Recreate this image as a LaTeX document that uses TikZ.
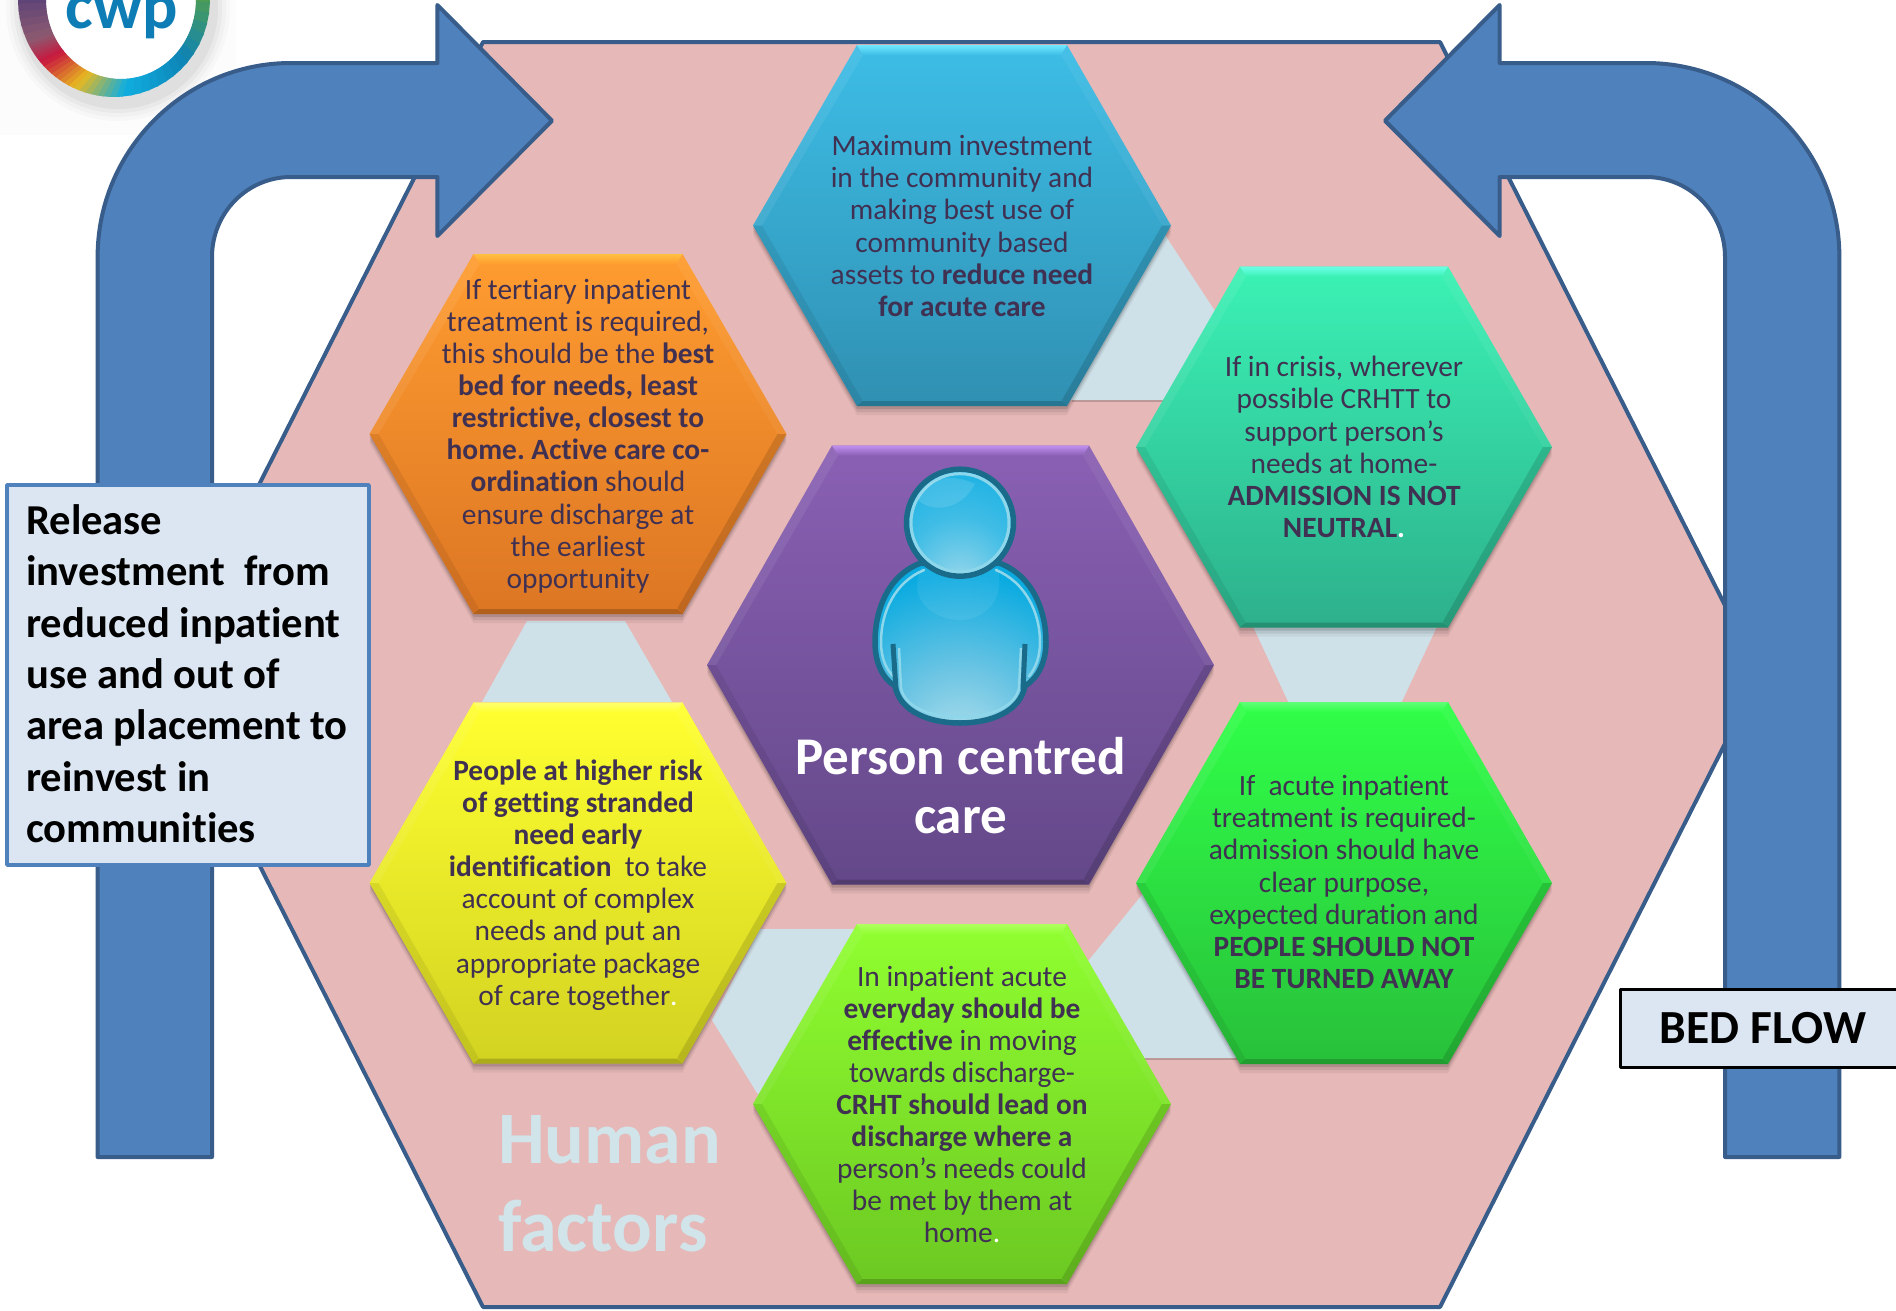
\documentclass[tikz,border=0pt]{standalone}
\usepackage{fontspec}
\setmainfont{Carlito}[Ligatures=NoCommon]
\usetikzlibrary{calc}
\definecolor{pinkbg}{HTML}{E6B8B7}
\definecolor{lightpoly}{HTML}{CFE1E8}
\definecolor{arrowfill}{HTML}{4F81BD}
\definecolor{arrowline}{HTML}{385D8A}
\definecolor{boxfill}{HTML}{DCE6F2}
\definecolor{hextext}{HTML}{403152}
\definecolor{humantext}{HTML}{D0E4EA}
\definecolor{logoblue}{HTML}{0E7DB5}
\definecolor{pline}{HTML}{1A6A8A}
\definecolor{pring}{HTML}{8ED6EA}
\definecolor{lgA}{HTML}{5DA33D}\definecolor{lgB}{HTML}{0E83B5}\definecolor{lgC}{HTML}{10AEE0}
\definecolor{lgD}{HTML}{E8B820}\definecolor{lgE}{HTML}{C8183F}\definecolor{lgF}{HTML}{8C5A70}\definecolor{lgG}{HTML}{4A3A7A}
\definecolor{blueT}{HTML}{3DBDE6}\definecolor{blueB}{HTML}{3090B2}\definecolor{blueH}{HTML}{6FE8FF}
\definecolor{tealT}{HTML}{3BF2B4}\definecolor{tealB}{HTML}{2DB08C}\definecolor{tealH}{HTML}{6CFFE8}
\definecolor{greenT}{HTML}{30FF48}\definecolor{greenB}{HTML}{28C03A}\definecolor{greenH}{HTML}{60FF78}
\definecolor{limeT}{HTML}{90FF30}\definecolor{limeB}{HTML}{6CC822}\definecolor{limeH}{HTML}{B0FF60}
\definecolor{yellowT}{HTML}{FFFF30}\definecolor{yellowB}{HTML}{D2D222}\definecolor{yellowH}{HTML}{FFFF70}
\definecolor{orangeT}{HTML}{FF9C30}\definecolor{orangeB}{HTML}{DC7624}\definecolor{orangeH}{HTML}{FFC040}
\definecolor{purpleT}{HTML}{8A60B4}\definecolor{purpleB}{HTML}{634888}\definecolor{purpleH}{HTML}{C090F0}
\pgfdeclareradialshading{personshade}{\pgfpoint{0bp}{-35bp}}{%
  rgb(0bp)=(.73,.89,.93);rgb(20bp)=(.42,.77,.89);rgb(42bp)=(.04,.67,.88);rgb(60bp)=(.04,.65,.87);rgb(100bp)=(.04,.65,.87)}
\pgfdeclareradialshading{headshade}{\pgfpoint{0bp}{-30bp}}{%
  rgb(0bp)=(.62,.85,.92);rgb(25bp)=(.25,.74,.90);rgb(50bp)=(.05,.68,.89);rgb(100bp)=(.05,.68,.89)}
\tikzset{
  hextxt/.style={text=hextext,align=center,inner sep=0pt,font=\fontsize{29.4}{32.1}\selectfont\frenchspacing},
  bigarrow/.style={fill=arrowfill,draw=arrowline,line width=4pt,line join=round},
  lightp/.style={fill=lightpoly},
  infobox/.style={fill=boxfill,line width=3.5pt,line join=round},
}
% cx, cy, half width, half height, inset, top colour, bottom colour, highlight
\newcommand{\hexa}[8]{%
  \begin{scope}[shift={(#1,#2)}]
    \pgfmathsetmacro\W{#3}\pgfmathsetmacro\H{#4}\pgfmathsetmacro\T{\W-#5}
    \foreach \o/\c in {9/.05,6/.08,3/.12}{
      \fill[black,opacity=\c] (-\W,\o) -- (-\T,-\H+\o) -- (\T,-\H+\o) -- (\W,\o) -- (\T,\H+\o) -- (-\T,\H+\o) -- cycle;
    }
    \shade[top color=#6,bottom color=#7] (-\W,0) -- (-\T,-\H) -- (\T,-\H) -- (\W,0) -- (\T,\H) -- (-\T,\H) -- cycle;
    \shade[top color=#8,bottom color=#6] (-\T,-\H) -- (\T,-\H) -- (\T-6,-\H+10) -- (-\T+6,-\H+10) -- cycle;
    \fill[white,opacity=.07] (-\W,0) -- (-\T,-\H) -- (-\T+6,-\H+10) -- (-\W+9,0) -- cycle;
    \fill[white,opacity=.05] (\W,0) -- (\T,-\H) -- (\T-6,-\H+10) -- (\W-9,0) -- cycle;
    \fill[black,opacity=.07] (-\W,0) -- (-\T,\H) -- (-\T+5,\H-6) -- (-\W+9,0) -- cycle;
    \fill[black,opacity=.13] (\W,0) -- (\T,\H) -- (\T-5,\H-6) -- (\W-9,0) -- cycle;
    \fill[black,opacity=.18] (-\T,\H) -- (\T,\H) -- (\T-5,\H-5) -- (-\T+5,\H-5) -- cycle;
  \end{scope}}
\newcommand{\arrowpath}{(97.6,1157) -- (97.6,257) .. controls (97.6,150.4) and (184.4,63) .. (291,63) -- (437.4,63) -- (437.4,5) -- (552,120.7) -- (437.4,236) -- (437.4,177) -- (291,177) .. controls (247,177) and (212,213) .. (212,257) -- (212,1157) -- cycle}
\begin{document}
\begin{tikzpicture}[x=1pt,y=-1pt]
\clip (0,0) rectangle (1896,1310);
\fill[white] (0,0) rectangle (1896,1310);
% logo
\fill[black!1] (0,0) rectangle (236,135);
\foreach \r/\c in {16/.02,12/.025,8/.03,4/.04}{
  \fill[black,opacity=\c] (118,8) ellipse ({96+\r} and {97+\r});
}
\fill[white] (121,0) ellipse (75 and 79);
\foreach \a/\b/\ca/\cb in {-12/40/lgA/lgB,40/85/lgB/lgC,85/115/lgC/lgD,115/140/lgD/lgE,140/155/lgE/lgF,155/192/lgF/lgG}{
  \foreach \t in {0,...,7}{
    \pgfmathsetmacro\sa{\a+(\b-\a)*\t/8}
    \pgfmathsetmacro\sb{\a+(\b-\a)*(\t+1.15)/8}
    \pgfmathsetmacro\pc{100-(\t+.5)*12.5}
    \fill[\ca!\pc!\cb] ({114+96*cos(\sa)},{97*sin(\sa)}) -- ({114+96*cos(\sb)},{97*sin(\sb)}) -- ({121+75*cos(\sb)},{79*sin(\sb)}) -- ({121+75*cos(\sa)},{79*sin(\sa)}) -- cycle;
  }
}
\node[anchor=base,text=logoblue,inner sep=0pt,font=\fontsize{66}{66}\selectfont\bfseries] (logotext) at (122,28) {cwp};
% large background hexagon
\draw[fill=pinkbg,draw=arrowline,line width=4pt,line join=round] (483,42) -- (1440,42) -- (1760,674.5) -- (1440,1307) -- (483,1307) -- (163,674.5) -- cycle;
% pale panels between the hexagons
\fill[lightp] (1150,230) -- (1165,235) -- (1240,349) -- (1240,400) -- (1060,400) -- cycle;
\fill[lightp] (1250,620) -- (1440,620) -- (1398,710) -- (1292,710) -- cycle;
\fill[lightp] (1150,885) -- (1250,1058) -- (1130,1058) -- (1080,971) -- cycle;
\fill[lightp] (760,929) -- (870,929) -- (770,1100) -- (757,1093) -- (712,1020) -- cycle;
\fill[lightp] (527,621) -- (625,621) -- (672,702) -- (482,702) -- cycle;
\fill[black,opacity=.18] (1072,400) rectangle (1180,402);
\fill[black,opacity=.18] (1142,1058) rectangle (1250,1060);
% arrows
\draw[bigarrow] \arrowpath;
\begin{scope}[shift={(1937,0)},xscale=-1]
  \draw[bigarrow] \arrowpath;
\end{scope}
% hexagons
\hexa{962}{225.5}{209}{180.5}{104}{blueT}{blueB}{blueH}
\hexa{1344}{447}{208}{180.5}{104}{tealT}{tealB}{tealH}
\hexa{1344}{883}{208}{181}{104}{greenT}{greenB}{greenH}
\hexa{962}{1104}{209}{180}{104}{limeT}{limeB}{limeH}
\hexa{578}{883}{208.5}{180.5}{104}{yellowT}{yellowB}{yellowH}
\hexa{578}{434}{208.5}{180}{104}{orangeT}{orangeB}{orangeH}
\hexa{960.5}{665}{253.5}{219.5}{125}{purpleT}{purpleB}{purpleH}
% person
\shade[shading=personshade,draw=pline,line width=5.5pt,line join=round]
  (921,563) .. controls (888,575) and (875,610) .. (875,642) .. controls (875,662) and (882,678) .. (895,686)
  .. controls (900,712) and (930,723) .. (960,723) .. controls (990,723) and (1020,712) .. (1025,686)
  .. controls (1038,678) and (1046,662) .. (1046,642) .. controls (1046,610) and (1032,575) .. (999,563) -- cycle;
\draw[pring,line width=2.5pt,line cap=round] (924,570) .. controls (895,582) and (881,612) .. (881,642) .. controls (881,656) and (885,668) .. (893,676);
\draw[pring,line width=2.5pt,line cap=round] (996,570) .. controls (1025,582) and (1040,612) .. (1040,642) .. controls (1040,656) and (1036,668) .. (1029,676);
\draw[pring,line width=2.5pt] (899,648) -- (901,688) .. controls (905,708) and (932,717) .. (960,717) .. controls (988,717) and (1015,708) .. (1019,688) -- (1021,648);
\draw[pline,line width=5pt] (893,644) -- (896,690);
\draw[pline,line width=5pt] (1025,644) -- (1023,690);
\fill[white,opacity=.07] (922,568) .. controls (905,600) and (935,620) .. (960,620) .. controls (985,620) and (1005,600) .. (998,568) -- cycle;
\shade[shading=headshade,draw=pline,line width=5.5pt] (960,522.7) circle (53.5);
\draw[pring,line width=3pt] (960,522.7) circle (49);
\fill[white,opacity=.12] (918,500) .. controls (930,512) and (960,512) .. (975,484) .. controls (950,472) and (925,478) .. (918,500) -- cycle;
% texts
\node[hextxt] (t1) at (962,226) {Maximum investment\\in the community and\\making best use of\\community based\\assets to \textbf{reduce need}\\\textbf{for acute care}};
\node[hextxt] (t2) at (1344,447) {If in crisis, wherever\\possible CRHTT to\\support person’s\\needs at home-\\\textbf{ADMISSION IS NOT}\\\textbf{NEUTRAL}{\color{white}\textbf{.}}};
\node[hextxt] (t3) at (1344,882) {If\ \ acute inpatient\\treatment is required-\\admission should have\\clear purpose,\\expected duration and\\\textbf{PEOPLE SHOULD NOT}\\\textbf{BE TURNED AWAY}};
\node[hextxt] (t4) at (962,1104.5) {In inpatient acute\\\textbf{everyday should be}\\\textbf{effective} in moving\\towards discharge-\\\textbf{CRHT should lead on}\\\textbf{discharge where a}\\person’s needs could\\be met by them at\\home{\color{white}.}};
\node[hextxt] (t5) at (578,885) {\textbf{People at higher risk}\\\textbf{of getting stranded}\\\textbf{need early}\\\textbf{identification}\ \ to take\\account of complex\\needs and put an\\appropriate package\\of care together{\color{white}.}};
\node[hextxt] (t6) at (578,436) {If tertiary inpatient\\treatment is required,\\this should be the \textbf{best}\\\textbf{bed for needs, least}\\\textbf{restrictive, closest to}\\\textbf{home. Active care co-}\\\textbf{ordination} should\\ensure discharge at\\the earliest\\opportunity};
\node[align=center,text=white,inner sep=0pt,font=\fontsize{53}{59}\selectfont\bfseries] (title) at (960.5,786) {Person centred\\care};
\node[anchor=north west,align=left,text=humantext,inner sep=0pt,font=\fontsize{74}{88}\selectfont\bfseries] (human) at (498,1115) {Human\\factors};
% boxes
\node[infobox,draw=arrowfill,minimum width=362pt,minimum height=380pt,inner sep=0pt] (release) at (188,675) {};
\node[anchor=north west,align=left,text=black,inner sep=0pt,font=\fontsize{42.6}{51.3}\selectfont\bfseries] (releasetext) at (26,504.5) {Release\\investment\ \ from\\reduced inpatient\\use and out of\\area placement to\\reinvest in\\communities};
\node[infobox,draw=black,line width=3pt,minimum width=300pt,minimum height=78pt,inner sep=0pt] (bedbox) at (1770,1028.5) {};
\node[anchor=base,text=black,inner sep=0pt,font=\fontsize{47.5}{60}\selectfont\bfseries] (bedflow) at (1763,1043.5) {BED FLOW};
\end{tikzpicture}
\end{document}
